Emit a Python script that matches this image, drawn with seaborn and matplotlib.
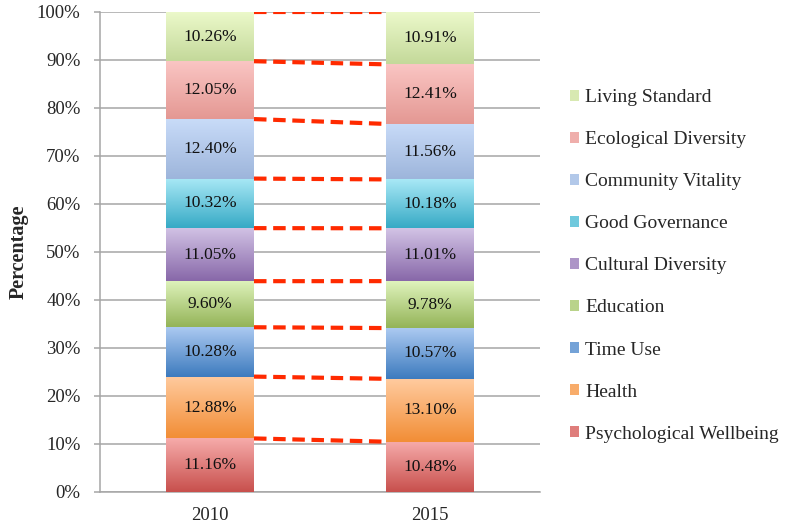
import numpy as np
import pandas as pd
import matplotlib
matplotlib.use("Agg")
import matplotlib.pyplot as plt
from matplotlib.colors import LinearSegmentedColormap
from matplotlib.patches import Patch
import seaborn as sns

years = ["2010", "2015"]
categories = ["Psychological Wellbeing", "Health", "Time Use", "Education",
              "Cultural Diversity", "Good Governance", "Community Vitality",
              "Ecological Diversity", "Living Standard"]
values_2010 = [11.16, 12.88, 10.28, 9.60, 11.05, 10.32, 12.40, 12.05, 10.26]
values_2015 = [10.48, 13.10, 10.57, 9.78, 11.01, 10.18, 11.56, 12.41, 10.91]

# (top colour, bottom colour) of the gradient fill, one pair per category
grad_colors = [
    ("#F6ABAA", "#C8504D"),
    ("#FFCA9E", "#F28E36"),
    ("#ABC9F1", "#3D7BBE"),
    ("#DFF3BC", "#94B458"),
    ("#D2C3E5", "#8868A9"),
    ("#A8E8F6", "#37AAC5"),
    ("#C8DBF8", "#9DB5DB"),
    ("#FAC5C3", "#E49893"),
    ("#ECF9CB", "#C4D99A"),
]

sns.set_style("white")
plt.rcParams["font.family"] = ["Liberation Serif", "DejaVu Serif"]

fig = plt.figure(figsize=(7.97, 5.30), dpi=100)
ax = fig.add_axes([0.1255, 0.0717, 0.552, 0.9057])

bottoms = np.zeros(2)
seg_patches = []
for i, cat in enumerate(categories):
    vals = np.array([values_2010[i], values_2015[i]])
    n_before = len(ax.patches)
    top_c, bot_c = grad_colors[i]
    sns.barplot(x=years, y=vals, bottom=bottoms, color=bot_c, width=0.4,
                saturation=1, ax=ax, zorder=3, edgecolor="none")
    new = ax.patches[n_before:]
    cmap = LinearSegmentedColormap.from_list(cat, [bot_c, top_c])
    for p in new:
        x0, y0 = p.get_x(), p.get_y()
        w, h = p.get_width(), p.get_height()
        im = ax.imshow(np.linspace(0, 1, 100).reshape(-1, 1), cmap=cmap,
                       extent=[x0, x0 + w, y0, y0 + h], origin="lower",
                       aspect="auto", zorder=4, interpolation="bicubic")
        im.set_clip_path(p)
        ax.text(x0 + w / 2, y0 + h / 2, f"{h:.2f}%", ha="center", va="center",
                fontsize=12.5, color="#111111", zorder=6)
    seg_patches.append(new)
    bottoms = bottoms + vals

# series lines between stacked tops
for new in seg_patches:
    a, b = new[0], new[1]
    ax.plot([a.get_x() + a.get_width(), b.get_x()],
            [a.get_y() + a.get_height(), b.get_y() + b.get_height()],
            color="#FF2A00", lw=3, linestyle=(0, (3, 1.6)), zorder=5,
            solid_capstyle="butt", dash_capstyle="butt")

ax.set_xlim(-0.5, 1.5)
ax.set_ylim(0, 100)
ax.set_yticks(np.arange(0, 101, 10))
ax.set_yticklabels([f"{t}%" for t in range(0, 101, 10)])
ax.yaxis.grid(True, color="#A6A6A6", lw=1.1, zorder=0)
ax.set_axisbelow(True)
for s in ["top", "right"]:
    ax.spines[s].set_visible(False)
for s in ["left", "bottom"]:
    ax.spines[s].set_color("#A6A6A6")
    ax.spines[s].set_linewidth(1.1)
ax.tick_params(axis="y", length=4, width=1.1, color="#A6A6A6", pad=10,
               labelsize=13.5, left=True, direction="out")
ax.tick_params(axis="x", length=0, pad=11, labelsize=13.5)
ax.set_xlabel("")
ax.set_ylabel("Percentage", fontsize=14.5, fontweight="bold", labelpad=6)

handles = [Patch(facecolor=sns.blend_palette([grad_colors[i][0], grad_colors[i][1]], 3)[1],
                 edgecolor="none", label=categories[i])
           for i in range(len(categories))][::-1]
ax.legend(handles=handles, loc="center left", bbox_to_anchor=(1.05, 0.471),
          frameon=False, fontsize=14, labelspacing=1.29, handlelength=0.5,
          handleheight=0.5, handletextpad=0.3, borderaxespad=0)

fig.savefig("out.png", dpi=100)
